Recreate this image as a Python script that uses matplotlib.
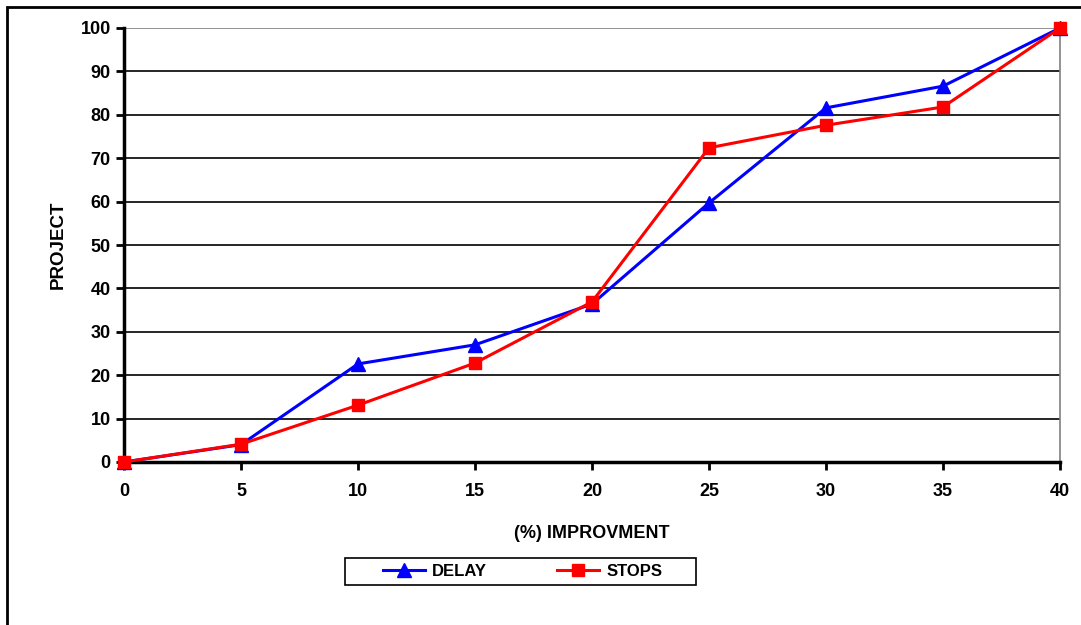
import matplotlib.pyplot as plt
from matplotlib.patches import Rectangle

plt.rcParams['font.family'] = ['Liberation Sans', 'DejaVu Sans']
plt.rcParams['font.weight'] = 'bold'

improvement = [0, 5, 10, 15, 20, 25, 30, 35, 40]
delay = [0, 4, 22.6, 27, 36.4, 59.7, 81.6, 86.6, 100]
stops = [0, 4.1, 13.1, 22.8, 36.9, 72.4, 77.6, 81.8, 100]
y_ticks = list(range(0, 101, 10))

W, H = 1081, 625
fig = plt.figure(figsize=(W / 100, H / 100), dpi=100)
ax = fig.add_axes([124 / W, 1 - 462 / H, 936 / W, 434 / H])

# outer frame of the chart area (cropped at right/bottom)
fig.patches.append(Rectangle((7 / W, -0.05), 1.2, 1 - 7 / H + 0.05,
                             transform=fig.transFigure, fill=False,
                             edgecolor='black', linewidth=2))

for v in y_ticks[1:]:
    ax.axhline(v, color='#808080' if v == 100 else 'black', linewidth=1.2, zorder=1)

ax.plot(improvement, delay, color='blue', marker='^', markersize=10,
        linewidth=2.2, label='DELAY', zorder=3, clip_on=False)
ax.plot(improvement, stops, color='red', marker='s', markersize=9,
        linewidth=2.2, label='STOPS', zorder=4, clip_on=False)

ax.set_xlim(0, 40)
ax.set_ylim(0, 100)
ax.set_xticks(improvement)
ax.set_yticks(y_ticks)
ax.tick_params(axis='both', labelsize=13, width=2, length=6, direction='out')
ax.tick_params(axis='x', pad=9)

ax.spines['top'].set_visible(False)
ax.spines['right'].set_color('#808080')
ax.spines['right'].set_linewidth(1.2)
ax.spines['left'].set_linewidth(2.5)
ax.spines['bottom'].set_linewidth(2.5)

ax.set_xlabel('(%) IMPROVMENT', fontsize=13, fontweight='bold', labelpad=18)
ax.set_ylabel('PROJECT', fontsize=13.5, fontweight='bold', labelpad=10)

# legend box
fig.patches.append(Rectangle((345 / W, 1 - 585 / H), 351 / W, 27 / H,
                             transform=fig.transFigure, fill=False,
                             edgecolor='black', linewidth=1.2))
fig.legend(loc='center left', bbox_to_anchor=(383 / W, 1 - 571.5 / H), ncol=2,
           frameon=False, fontsize=12, handlelength=2.5, columnspacing=4.2,
           borderpad=0, borderaxespad=0, handletextpad=0.45)

fig.savefig('out.png', dpi=100)
